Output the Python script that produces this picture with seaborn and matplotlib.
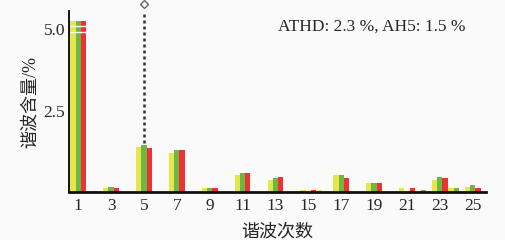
import pandas as pd
import numpy as np
import matplotlib
matplotlib.use("Agg")
import matplotlib.pyplot as plt
import seaborn as sns

# harmonic orders 1..25, three phases (yellow / green / red)
orders = list(range(1, 26))
phase_a = [5.25, 0.06, 0.13, 0, 1.40, 0, 1.20, 0, 0.13, 0, 0.53, 0, 0.38,
           0, 0.07, 0.07, 0.53, 0, 0.28, 0, 0.13, 0, 0.38, 0.13, 0.17]
phase_b = [5.26, 0.06, 0.18, 0, 1.45, 0, 1.30, 0, 0.13, 0, 0.59, 0, 0.43,
           0, 0, 0, 0.53, 0, 0.28, 0, 0, 0.07, 0.48, 0.13, 0.22]
phase_c = [5.26, 0, 0.13, 0, 1.35, 0, 1.30, 0, 0.13, 0, 0.59, 0, 0.48,
           0, 0.07, 0, 0.43, 0, 0.28, 0, 0.13, 0, 0.43, 0, 0.15]
phase_names = ["A", "B", "C"]
tick_labels = [str(o) for o in orders if o % 2 == 1]
summary = "ATHD: 2.3 %, AH5: 1.5 %"
marked_order = 5

colors = ["#e6e64a", "#6cb846", "#ee3232"]

df = pd.DataFrame({
    "order": orders * 3,
    "value": phase_a + phase_b + phase_c,
    "phase": np.repeat(phase_names, len(orders)),
})

sns.set_style("white")
plt.rcParams["font.family"] = ["Liberation Serif", "Noto Sans CJK SC"]

fig = plt.figure(figsize=(5.05, 2.4), dpi=100, facecolor="#fafafa")
ax = fig.add_axes([0.137, 0.198, 0.825, 0.756])
ax.set_facecolor("#fafafa")

sns.barplot(data=df, x="order", y="value", hue="phase", order=orders,
            palette=colors, width=0.96, gap=0, legend=False, ax=ax,
            saturation=1, edgecolor="none")

ax.set_xlim(-0.55, len(orders) - 0.2)
ax.set_ylim(0, 5.55)

# axis break marks on the fundamental
ax.hlines([4.9, 5.1], -0.5, 0.5, color="white", lw=1, zorder=5)

# dotted marker above the 5th harmonic
i5 = orders.index(marked_order)
top5 = max(phase_a[i5], phase_b[i5], phase_c[i5])
ax.plot([i5, i5], [top5 + 0.05, 5.5], ls=(0, (1.2, 1.2)), color="#333333", lw=1.8)
ax.plot([i5], [5.76], marker="D", ms=4, mfc="white", mec="#666666",
        mew=1, clip_on=False)

ax.set_xticks(range(0, len(orders), 2))
ax.set_xticklabels(tick_labels)
ax.set_yticks([2.5, 5.0])
ax.set_yticklabels(["2.5", "5.0"])
ax.tick_params(axis="x", length=0, labelsize=12.5, pad=4)
ax.tick_params(axis="y", direction="in", length=4, width=1, labelsize=12.5,
               left=True, pad=3)

for s in ["top", "right"]:
    ax.spines[s].set_visible(False)
ax.spines["left"].set_color("black")
ax.spines["left"].set_linewidth(1.3)
ax.spines["bottom"].set_color("#111111")
ax.spines["bottom"].set_linewidth(2)

ax.set_xlabel("谐波次数", fontsize=13, labelpad=7)
ax.set_ylabel("谐波含量/%", fontsize=13, labelpad=3)

ax.text(0.952, 0.912, summary, transform=ax.transAxes, ha="right",
        va="center", fontsize=12.5)

fig.savefig("out.png", dpi=100, facecolor=fig.get_facecolor())
